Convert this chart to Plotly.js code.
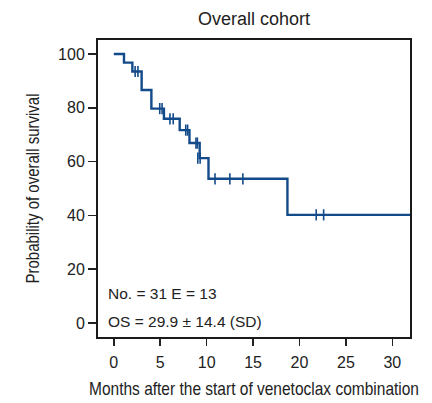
<!DOCTYPE html>
<html>
<head>
<meta charset="utf-8">
<script src="https://cdn.plot.ly/plotly-3.0.1.min.js"></script>
<style>
  html, body { margin: 0; padding: 0; background: #ffffff; }
  #chart { width: 432px; height: 403px; }
</style>
</head>
<body>
<div id="chart"></div>
<script>
// Kaplan–Meier step curve: event times (months) and survival (%) after each step
const stepMonths = [0, 1.1, 2.0, 3.0, 4.05, 5.4, 7.1, 8.15, 9.25, 10.2, 18.7, 31.9];
const stepSurvival = [100, 96.8, 93.5, 86.6, 79.7, 75.9, 71.7, 66.9, 61.3, 53.6, 40.2, 40.2];

// Censored observations (months) and the survival level they sit on
const censorMonths = [2.3, 2.6, 4.95, 5.2, 6.05, 6.4, 7.75, 7.95, 8.85, 9.0, 9.05, 9.3, 10.9, 12.5, 13.9, 21.8, 22.6];
const censorSurvival = [93.5, 93.5, 79.7, 79.7, 75.9, 75.9, 71.7, 71.7, 66.9, 66.9, 61.3, 61.3, 53.6, 53.6, 53.6, 40.2, 40.2];

const xTicks = [0, 5, 10, 15, 20, 25, 30];
const yTicks = [0, 20, 40, 60, 80, 100];

const lineColor = '#134a8a';
const bodyFont = '"Liberation Sans", Arial, sans-serif';

const traces = [
  {
    x: stepMonths,
    y: stepSurvival,
    type: 'scatter',
    mode: 'lines',
    line: { shape: 'hv', color: lineColor, width: 2.4 },
    hoverinfo: 'skip',
    showlegend: false
  },
  {
    x: censorMonths,
    y: censorSurvival,
    type: 'scatter',
    mode: 'markers',
    marker: { symbol: 'line-ns-open', size: 8, color: lineColor, line: { color: lineColor, width: 1.6 } },
    hoverinfo: 'skip',
    showlegend: false
  }
];

const layout = {
  width: 432,
  height: 403,
  margin: { l: 98, r: 22, t: 40, b: 66 },
  paper_bgcolor: '#ffffff',
  plot_bgcolor: '#ffffff',
  title: {
    text: 'Overall cohort',
    font: { family: bodyFont, size: 18, color: '#222222' },
    x: 0.588, xanchor: 'center',
    y: 0.953, yanchor: 'middle'
  },
  xaxis: {
    range: [-1.7, 31.9],
    tickvals: xTicks,
    ticktext: xTicks.map(String),
    ticks: 'outside', ticklen: 7, tickwidth: 1.5, tickcolor: '#222222',
    ticklabelstandoff: 3,
    tickfont: { family: bodyFont, size: 16, color: '#222222' },
    showgrid: false, zeroline: false,
    showline: true, linecolor: '#1a1a1a', linewidth: 2, mirror: true,
    title: {
      text: 'Months after the start of venetoclax combination',
      font: { family: bodyFont, size: 19, color: '#222222' },
      standoff: 11
    }
  },
  yaxis: {
    range: [-5.2, 105.2],
    tickvals: yTicks,
    ticktext: yTicks.map(String),
    ticks: 'outside', ticklen: 8, tickwidth: 1.5, tickcolor: '#222222',
    tickfont: { family: bodyFont, size: 16, color: '#222222' },
    showgrid: false, zeroline: false,
    showline: true, linecolor: '#1a1a1a', linewidth: 2, mirror: true,
    title: {
      text: 'Probability of overall survival',
      font: { family: bodyFont, size: 19, color: '#222222' },
      standoff: 13
    }
  },
  annotations: [
    {
      text: 'No. = 31 E = 13',
      xref: 'paper', yref: 'paper',
      x: 0.025, y: 0.145, xanchor: 'left', yanchor: 'middle',
      showarrow: false,
      font: { family: bodyFont, size: 15.5, color: '#222222' }
    },
    {
      text: 'OS = 29.9 ± 14.4 (SD)',
      xref: 'paper', yref: 'paper',
      x: 0.025, y: 0.052, xanchor: 'left', yanchor: 'middle',
      showarrow: false,
      font: { family: bodyFont, size: 15.5, color: '#222222' }
    }
  ]
};

// Axis titles are set in a condensed style: squeeze each title to its target width
function condenseTitles(gd) {
  const fit = [
    ['.g-xtitle text', 330],
    ['.g-ytitle text', 190]
  ];
  fit.forEach(([sel, len]) => {
    const el = gd.querySelector(sel);
    if (el) {
      el.setAttribute('textLength', len);
      el.setAttribute('lengthAdjust', 'spacingAndGlyphs');
    }
  });
}

Plotly.newPlot('chart', traces, layout, { displayModeBar: false, staticPlot: true })
  .then(condenseTitles);
</script>
</body>
</html>
